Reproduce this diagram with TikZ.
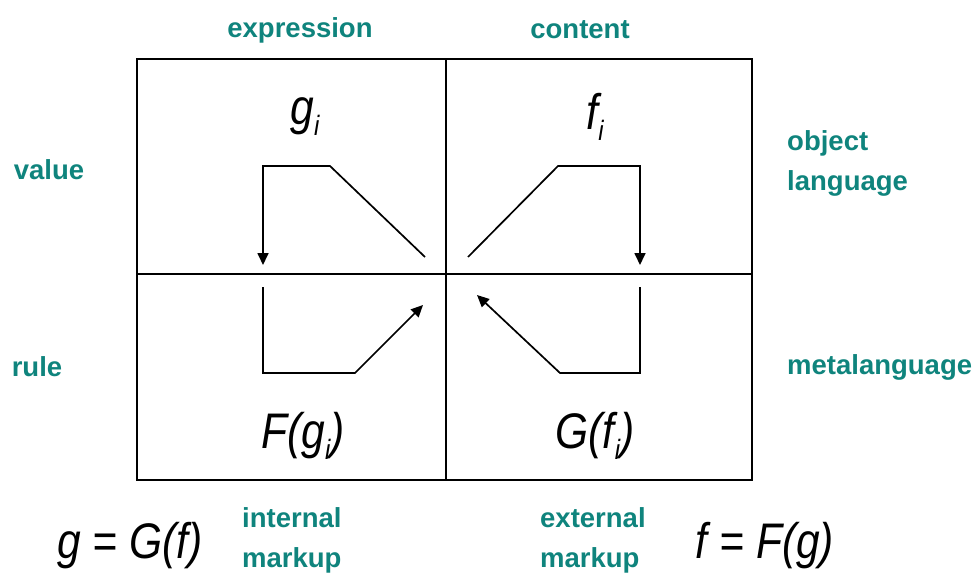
\documentclass[tikz,border=0pt]{standalone}
\usepackage{fontspec}
\setmainfont{Liberation Sans}
\usetikzlibrary{arrows.meta}
\definecolor{labelteal}{RGB}{15,132,125}
\newcommand{\sbs}[1]{\raisebox{-0.22em}{\fontsize{28}{30}\selectfont #1}}

\begin{document}
\begin{tikzpicture}[x=1pt,y=-1pt,>={Triangle[length=12pt,width=11pt]},
  lbl/.style={font=\fontsize{27.5}{40}\selectfont\bfseries,text=labelteal,inner sep=0pt},
  frm/.style={font=\fontsize{50}{56}\selectfont\itshape,inner sep=0pt,xscale=0.85},
  flow/.style={line width=1.7pt}]
  \useasboundingbox (0,0) rectangle (977,576);
  \draw[line width=1.8pt] (137,59) rectangle (752,480);
  \draw[line width=1.8pt] (446,59) -- (446,480);
  \draw[line width=1.8pt] (137,274) -- (752,274);
  % column and row headings
  \node[lbl] (expr) at (300,30) {expression};
  \node[lbl] (cont) at (580,30) {content};
  \node[lbl] (val) at (49,170) {value};
  \node[lbl,anchor=west,align=left] (obj) at (787,163) {object\\language};
  \node[lbl] (rule) at (37,367) {rule};
  \node[lbl,anchor=west] (meta) at (787,367) {metalanguage};
  % cell contents
  \node[frm] (gi) at (305,117) {g\sbs{i}};
  \node[frm] (fi) at (595,117) {f\sbs{i}};
  \node[frm] (Fg) at (303,436) {F(g\sbs{i})};
  \node[frm] (Gf) at (595,436) {G(f\sbs{i})};
  % bottom line
  \node[frm] (geq) at (130,546) {g = G(f)};
  \node[lbl,anchor=west,align=left] (intm) at (242,540) {internal\\markup};
  \node[lbl,anchor=west,align=left] (extm) at (540,540) {external\\markup};
  \node[frm] (feq) at (765,546) {f = F(g)};
  % flow paths
  \coordinate (a1) at (425,257);
  \coordinate (a2) at (330,166);
  \coordinate (a3) at (263,166);
  \coordinate (a4) at (263,265);
  \draw[flow,->] (a1) -- (a2) -- (a3) -- (a4);
  \coordinate (b1) at (468,257);
  \coordinate (b2) at (558,166);
  \coordinate (b3) at (640,166);
  \coordinate (b4) at (640,265);
  \draw[flow,->] (b1) -- (b2) -- (b3) -- (b4);
  \coordinate (c1) at (263,287);
  \coordinate (c2) at (263,373);
  \coordinate (c3) at (355,373);
  \coordinate (c4) at (423,305);
  \draw[flow,->] (c1) -- (c2) -- (c3) -- (c4);
  \coordinate (d1) at (640,287);
  \coordinate (d2) at (640,373);
  \coordinate (d3) at (560,373);
  \coordinate (d4) at (477,295);
  \draw[flow,->] (d1) -- (d2) -- (d3) -- (d4);
\end{tikzpicture}
\end{document}
